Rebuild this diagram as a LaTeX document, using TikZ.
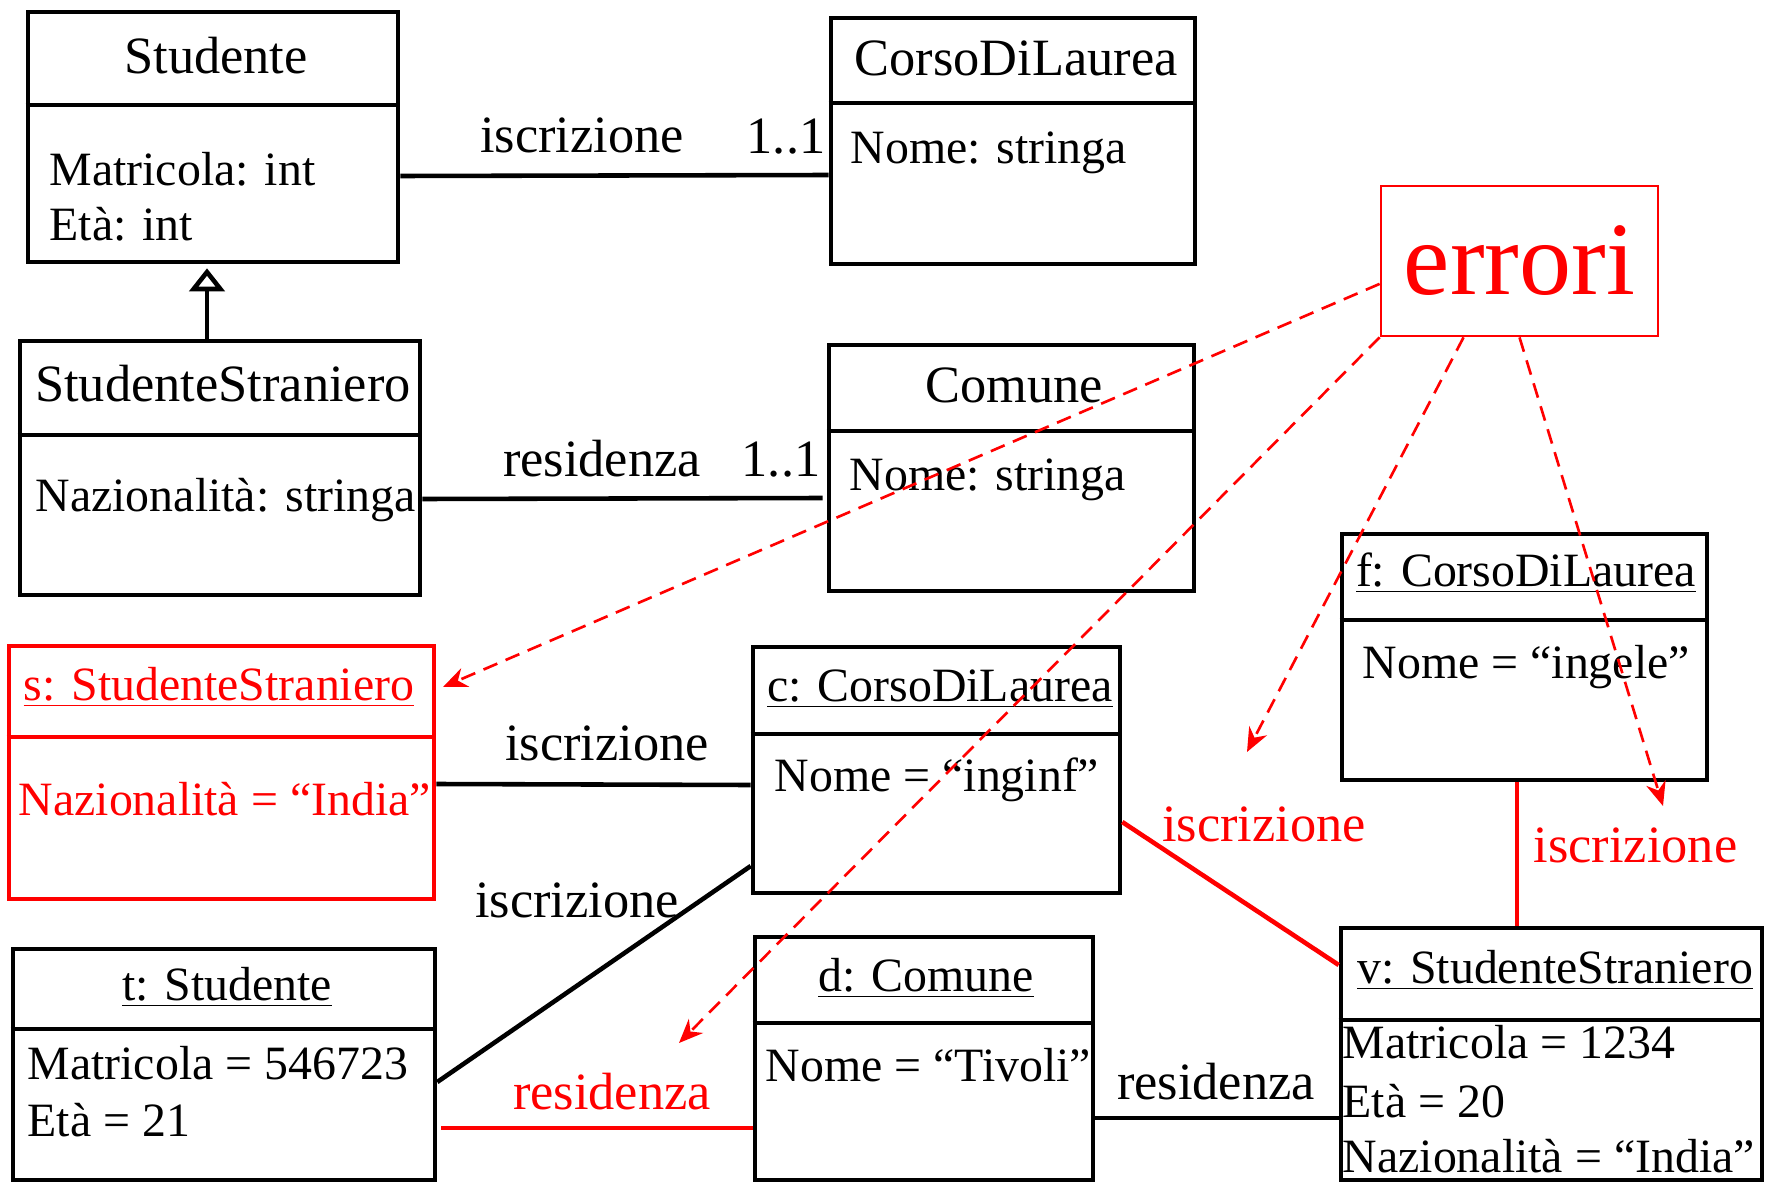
\documentclass[tikz,border=0pt]{standalone}
\usepackage{fontspec}
\setmainfont{Liberation Serif}
\usetikzlibrary{arrows.meta,fit,calc}
\newcommand{\clsfont}{\fontsize{14.9}{17}\selectfont}
\newcommand{\attfont}{\fontsize{13.6}{16}\selectfont}
\newcommand{\errfont}{\fontsize{29.6}{34}\selectfont}

\begin{document}
\begin{tikzpicture}[x=0.01cm, y=-0.01cm,
  bx/.style={draw, line width=1.3pt, inner sep=0pt},
  divider/.style={line width=1.3pt},
  hd/.style={inner sep=0pt, anchor=base, font=\clsfont},
  ob/.style={inner sep=0pt, anchor=base, font=\attfont},
  attr/.style={inner sep=0pt, anchor=base west, font=\attfont},
  lbl/.style={inner sep=0pt, anchor=base, font=\clsfont},
  assoc/.style={line width=1.3pt},
  errbox/.style={draw=red, line width=0.75pt, inner sep=0pt, text=red, font=\errfont},
  errarrow/.style={red, line width=0.75pt, dash pattern=on 1.5mm off 0.9mm, -{Stealth[length=2.4mm,width=2mm]}}]
\useasboundingbox (0,0) rectangle (1766,1182);
% Class diagram
\node[bx, fit={(28,12) (398,262)}] (stud) {};
\draw[divider] (stud.west |- 0,105) -- (stud.east |- 0,105);
\node[hd] (studT) at (216,73.5) {Studente};
\node[attr] (studA) at (49,185.6) {Matricola: int};
\node[attr] (studB) at (49,241) {Età: int};
\node[bx, fit={(831,18) (1195,264)}] (cdl) {};
\draw[divider] (cdl.west |- 0,103) -- (cdl.east |- 0,103);
\node[hd] (cdlT) at (1016,76) {CorsoDiLaurea};
\node[attr] (cdlA) at (850,164) {Nome: stringa};
\node[bx, fit={(20,341) (420,595)}] (stra) {};
\draw[divider] (stra.west |- 0,435) -- (stra.east |- 0,435);
\node[hd] (straT) at (223,402) {StudenteStraniero};
\node[attr] (straA) at (35,511) {Nazionalità: stringa};
\node[bx, fit={(829,345) (1194,591)}] (com) {};
\draw[divider] (com.west |- 0,431) -- (com.east |- 0,431);
\node[hd] (comT) at (1014,402.6) {Comune};
\node[attr] (comA) at (849,490.6) {Nome: stringa};
% Class associations
\draw[assoc] (stud.east |- 0,176) -- (cdl.west |- 0,175);
\node[lbl] (iscC) at (582,153) {iscrizione};
\node[lbl] (iscM) at (786,154) {1..1};
\draw[assoc] (stra.east |- 0,499) -- ($(com.west |- 0,498)+(-4,0)$);
\node[lbl] (resC) at (602,476) {residenza};
\node[lbl] (resM) at (781,476) {1..1};
\draw[line width=1.3pt, -{Triangle[open,length=2.3mm,width=3.5mm]}] (stra.north -| 207,0) -- ($(stud.south -| 207,0)+(0,4)$);
% Errors
\node[errbox, minimum width=2.77cm, minimum height=1.5cm] (err) at (1519.5,261) {errori};
% Object diagram
\node[bx, red, fit={(9,646) (434,899)}] (sobj) {};
\draw[divider, red] (sobj.west |- 0,737) -- (sobj.east |- 0,737);
\node[ob, text=red] (sobjT) at (219,700) {\underline{s: StudenteStraniero}};
\node[attr, text=red] (sobjA) at (18,815) {Nazionalità = “India”};
\node[bx, fit={(753,647) (1120,893)}] (cobj) {};
\draw[divider] (cobj.west |- 0,734) -- (cobj.east |- 0,734);
\node[ob] (cobjT) at (940,701) {\underline{c: CorsoDiLaurea}};
\node[attr] (cobjA) at (774,791) {Nome = “inginf”};
\node[bx, fit={(13,949) (435,1180)}] (tobj) {};
\draw[divider] (tobj.west |- 0,1029) -- (tobj.east |- 0,1029);
\node[ob] (tobjT) at (227,1000) {\underline{t: Studente}};
\node[attr] (tobjA) at (27,1079) {Matricola = 546723};
\node[attr] (tobjB) at (27,1136) {Età = 21};
\node[bx, fit={(755,937) (1093,1180)}] (dobj) {};
\draw[divider] (dobj.west |- 0,1023) -- (dobj.east |- 0,1023);
\node[ob] (dobjT) at (926,991) {\underline{d: Comune}};
\node[attr] (dobjA) at (765,1081) {Nome = “Tivoli”};
\node[bx, fit={(1342,534) (1707,780)}] (fobj) {};
\draw[divider] (fobj.west |- 0,620) -- (fobj.east |- 0,620);
\node[ob] (fobjT) at (1526,586) {\underline{f: CorsoDiLaurea}};
\node[attr] (fobjA) at (1362,678) {Nome = “ingele”};
\node[bx, fit={(1341,928) (1762,1180)}] (vobj) {};
\draw[divider] (vobj.west |- 0,1020) -- (vobj.east |- 0,1020);
\node[ob] (vobjT) at (1555,983) {\underline{v: StudenteStraniero}};
\node[attr] (vobjA) at (1342,1058) {Matricola = 1234};
\node[attr] (vobjB) at (1342,1117) {Età = 20};
\node[attr] (vobjC) at (1342,1172) {Nazionalità = “India”};
% Links
\draw[assoc] (sobj.east |- 0,784) -- (cobj.west |- 0,785);
\node[lbl] (iscSC) at (607,760) {iscrizione};
\draw[assoc] (tobj.east |- 0,1082) -- (cobj.west |- 0,866);
\node[lbl] (iscTC) at (577,917) {iscrizione};
\draw[assoc, red] ($(tobj.east |- 0,1128)+(4,0)$) -- (dobj.west |- 0,1128);
\node[lbl, text=red] (resTD) at (612,1109) {residenza};
\draw[assoc, red] (cobj.east |- 0,822) -- (vobj.west |- 0,965);
\node[lbl, text=red] (iscCV) at (1264,841) {iscrizione};
\draw[assoc, red] (fobj.south -| 1517,0) -- (vobj.north -| 1517,0);
\node[lbl, text=red, anchor=base west] (iscFV) at (1533,862) {iscrizione};
\draw[assoc] (dobj.east |- 0,1118) -- (vobj.west |- 0,1118);
\node[lbl] (resDV) at (1216,1099) {residenza};
% Error pointers
\coordinate (tipS) at (443,687);
\coordinate (tipTD) at (679,1043);
\coordinate (tipCV) at (1247,752);
\coordinate (tipFV) at (1663,806);
\draw[errarrow] ($(err.north west)!0.65!(err.south west)$) -- (tipS);
\draw[errarrow] (err.south west) -- (tipTD);
\draw[errarrow] ($(err.south west)!0.3!(err.south east)$) -- (tipCV);
\draw[errarrow] (err.south) -- (tipFV);
\end{tikzpicture}
\end{document}
